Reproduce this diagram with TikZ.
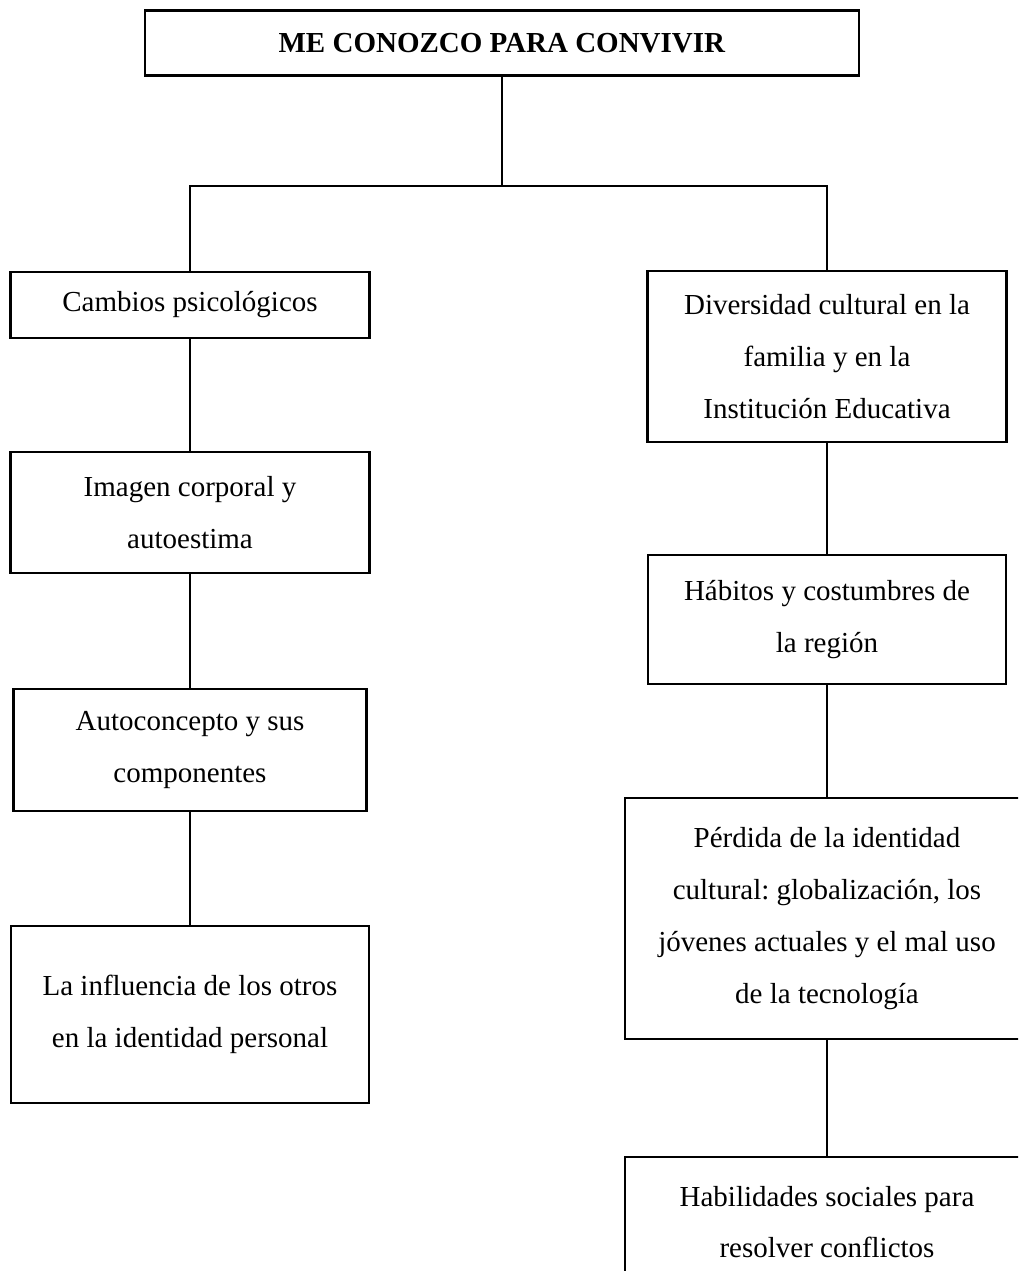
\documentclass[tikz,border=0pt]{standalone}
\usepackage{fontspec}
\setmainfont{Liberation Serif}
\usepackage{tikz}
\frenchspacing

\begin{document}
\begin{tikzpicture}[x=1pt,y=-1pt,
  box/.style={draw,line width=2.6pt,align=center,inner sep=0pt,
    font=\fontsize{29}{51.7}\selectfont},
  link/.style={line width=2.6pt}]
\clip (0,0) rectangle (1018,1271);

\node [box,minimum width=714pt,minimum height=65pt] (title) at (502,43) {\textbf{ME CONOZCO PARA CONVIVIR}};
\coordinate (fork) at (502,186);

% left column
\node [box,minimum width=359pt,minimum height=66pt] (cambios) at (190,305) {Cambios psicológicos};
\node [box,minimum width=359pt,minimum height=121pt] (imagen) at (190,512.5) {Imagen corporal y\\autoestima};
\node [box,minimum width=353pt,minimum height=122pt] (autoc) at (190,750) {Autoconcepto y sus\\componentes};
\node [box,minimum width=358pt,minimum height=177pt] (influ) at (190,1014.5) {La influencia de los otros\\en la identidad personal};

% right column
\node [box,minimum width=359pt,minimum height=171pt] (divers) at (827,356.5) {Diversidad cultural en la\\familia y en la\\Institución Educativa};
\node [box,minimum width=358pt,minimum height=129pt] (habitos) at (827,619.5) {Hábitos y costumbres de\\la región};
\node [box,minimum width=404pt,minimum height=241pt] (perdida) at (827,918.5) {Pérdida de la identidad\\cultural: globalización, los\\jóvenes actuales y el mal uso\\de la tecnología};
\node [box,minimum width=404pt,minimum height=130pt] (habil) at (827,1222) {Habilidades sociales para\\resolver conflictos};

\draw [link] (title) -- (fork);
\draw [link] (cambios) |- (fork) -| (divers);
\draw [link] (cambios) -- (imagen);
\draw [link] (imagen) -- (autoc);
\draw [link] (autoc) -- (influ);
\draw [link] (divers) -- (habitos);
\draw [link] (habitos) -- (perdida);
\draw [link] (perdida) -- (habil);
\end{tikzpicture}
\end{document}
